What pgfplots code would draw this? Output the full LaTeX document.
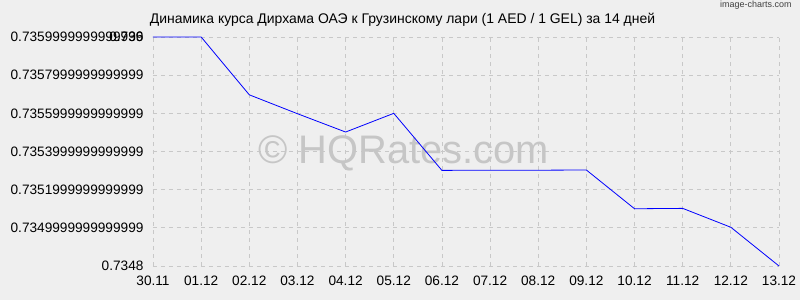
\documentclass[border=0pt]{standalone}
\usepackage{pgfplots}
\pgfplotsset{compat=1.18}
\usepackage{fontspec}
\setmainfont{Liberation Sans}
\definecolor{bg}{HTML}{EFEFEF}
\definecolor{gridc}{HTML}{C8C8C8}
\definecolor{wm}{HTML}{C6C6C6}
\begin{document}
\begin{tikzpicture}[x=1bp,y=1bp]
\path[use as bounding box,fill=bg] (-153bp,-34bp) rectangle (647bp,266bp);
\begin{axis}[
  at={(0,0)}, anchor=origin,
  scale only axis, width=626bp, height=229bp,
  xmin=0, xmax=13, ymin=0.7348, ymax=0.7360,
  axis line style={draw=none},
  xtick={0,...,13},
  xticklabels={30.11,01.12,02.12,03.12,04.12,05.12,06.12,07.12,08.12,09.12,10.12,11.12,12.12,13.12},
  ytick={0.7348,0.7350,0.7352,0.7354,0.7356,0.7358,0.7360},
  yticklabels={0.7348,0.7349999999999999,0.7351999999999999,0.7353999999999999,0.7355999999999999,0.7357999999999999,{0.7359999999999999\llap{0.736}}},
  scaled y ticks=false,
  tick style={draw=none},
  grid=major,
  major grid style={gridc, dash pattern=on 4bp off 4bp, line width=0.8bp},
  tick label style={font=\fontsize{13.7}{15}\selectfont, text=black},
  xticklabel style={yshift=-6bp},
  yticklabel style={xshift=-6bp},
  clip=false,
]
\node[text=wm, font=\fontsize{40}{44}\selectfont] at (rel axis cs:0.4,0.49) {© HQRates.com};
\addplot[blue, line width=0.8bp, mark=none] coordinates {
(0,0.7360) (1,0.7360) (2,0.735697) (3,0.735598) (4,0.735502) (5,0.735600)
(6,0.735301) (7,0.735302) (8,0.735302) (9,0.735303) (10,0.735100) (11,0.735102)
(12,0.735003) (13,0.7348)};
\end{axis}
\node[font=\fontsize{14}{16}\selectfont, anchor=base] at (249.5bp,242bp) {Динамика курса Дирхама ОАЭ к Грузинскому лари (1 AED / 1 GEL) за 14 дней};
\node[font=\fontsize{9}{10}\selectfont, text=black!75, anchor=base east] at (642bp,258bp) {image-charts.com};
\end{tikzpicture}
\end{document}
